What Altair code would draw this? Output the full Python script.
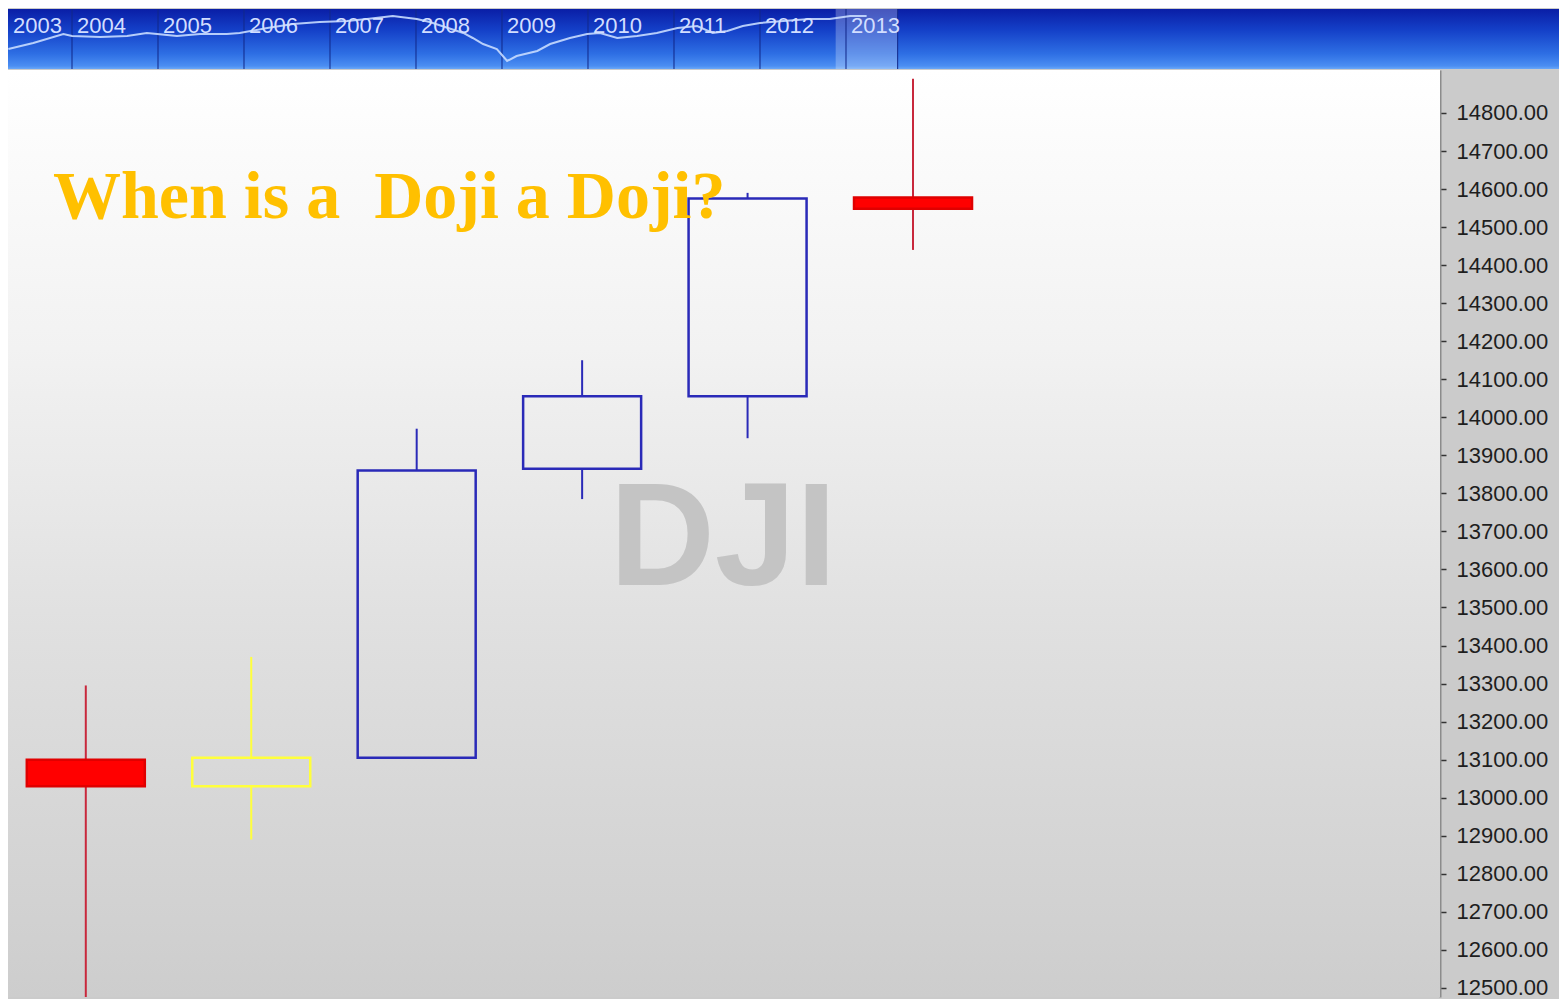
import altair as alt
import pandas as pd

# ---------------- main candles ----------------
candle_idx = [0, 1, 2, 3, 4, 5]
candle_open = [13100, 13030, 13105, 13865, 14055, 14578]
candle_close = [13030, 13105, 13860, 14055, 14575, 14548]
candle_high = [13295, 13370, 13970, 14150, 14590, 14890]
candle_low = [12476, 12890, 13105, 13785, 13945, 14440]
candle_kind = ["down", "doji", "up", "up", "up", "down"]

axis_ticks = [12500, 12600, 12700, 12800, 12900, 13000, 13100, 13200, 13300,
              13400, 13500, 13600, 13700, 13800, 13900, 14000, 14100, 14200,
              14300, 14400, 14500, 14600, 14700, 14800]

title_text = ["When is a\u00a0 Doji a Doji?"]
watermark_text = ["DJI"]

# ---------------- header navigator ----------------
header_years = [2003, 2004, 2005, 2006, 2007, 2008, 2009, 2010, 2011, 2012, 2013]
separator_years = [2004, 2005, 2006, 2007, 2008, 2009, 2010, 2011, 2012, 2013, 2013.6]
window_start = [2012.88]
window_end = [2013.6]
hist_year = [2003.26, 2003.55, 2003.90, 2004.00, 2004.33, 2004.64, 2004.87, 2004.99,
             2005.22, 2005.49, 2005.80, 2005.95, 2006.27, 2006.57, 2006.88, 2007.20,
             2007.43, 2007.73, 2008.01, 2008.16, 2008.55, 2008.66, 2008.78, 2008.94,
             2009.06, 2009.17, 2009.41, 2009.56, 2009.79, 2009.99, 2010.14, 2010.34,
             2010.57, 2010.80, 2011.04, 2011.27, 2011.45, 2011.62, 2011.80, 2012.00,
             2012.27, 2012.58, 2012.81, 2013.05, 2013.24]
hist_value = [8580, 9590, 11120, 10780, 10610, 10780, 11290, 11120,
              10780, 11120, 11120, 11290, 12130, 12810, 13150, 13320,
              13660, 14160, 13660, 13150, 11290, 10440, 9420, 8580,
              6550, 7390, 8240, 9420, 10440, 11120, 11290, 10440,
              10780, 11290, 12130, 12470, 11290, 11630, 12470, 12980,
              13320, 13660, 13660, 14160, 14160]

kinds = ["down", "doji", "up"]
fill_range = ["#ff0000", "transparent", "transparent"]
stroke_range = ["#e00000", "#ffff3c", "#2a2ab8"]
wick_range = ["#c8283c", "#ffff3c", "#2a2ab8"]

candles = pd.DataFrame({
    "idx": candle_idx, "open": candle_open, "close": candle_close,
    "high": candle_high, "low": candle_low, "kind": candle_kind,
})

MAIN_W, MAIN_H = 1432, 927
xscale = alt.Scale(domain=[-0.44, 8.155], nice=False, zero=False)
yscale = alt.Scale(domain=[12476, 14913], nice=False, zero=False)
yaxis = alt.Axis(orient="right", values=axis_ticks, format=".2f", title=None, grid=False,
                 labelFont="Liberation Sans", labelFontSize=22, labelColor="#1e1e1e",
                 labelPadding=10, tickSize=6, tickColor="#333333", tickWidth=1.5,
                 domainColor="#8c8c8c", domainWidth=2, labelOverlap=False)

grey_grad = alt.LinearGradient(gradient="linear", x1=0, x2=0, y1=0, y2=1, stops=[
    alt.GradientStop(color="#ffffff", offset=0),
    alt.GradientStop(color="#f2f2f2", offset=0.3),
    alt.GradientStop(color="#e0e0e0", offset=0.6),
    alt.GradientStop(color="#cdcdcd", offset=1)])

one = pd.DataFrame({"k": [0]})

bg = alt.Chart(one).mark_rect(fill=grey_grad).encode(
    x=alt.value(0), x2=alt.value("width"), y=alt.value(0), y2=alt.value("height"))

watermark = alt.Chart(pd.DataFrame({"t": watermark_text})).mark_text(
    font="Liberation Sans", fontWeight="bold", fontSize=146, color="#c4c4c4",
    align="center", baseline="alphabetic").encode(
    x=alt.value(715), y=alt.value(515), text="t:N")

base = alt.Chart(candles).transform_calculate(
    top="max(datum.open, datum.close)", bot="min(datum.open, datum.close)")

wick_up = base.mark_rule(strokeWidth=2).encode(
    x=alt.X("idx:Q", scale=xscale, axis=None),
    y=alt.Y("high:Q", scale=yscale, axis=yaxis),
    y2="top:Q",
    color=alt.Color("kind:N", scale=alt.Scale(domain=kinds, range=wick_range), legend=None))

wick_dn = base.mark_rule(strokeWidth=2).encode(
    x=alt.X("idx:Q", scale=xscale, axis=None),
    y=alt.Y("low:Q", scale=yscale, axis=yaxis),
    y2="bot:Q",
    color=alt.Color("kind:N", scale=alt.Scale(domain=kinds, range=wick_range), legend=None))

body = base.mark_bar(width=118, strokeWidth=2.5).encode(
    x=alt.X("idx:Q", scale=xscale, axis=None),
    y=alt.Y("open:Q", scale=yscale, axis=yaxis),
    y2="close:Q",
    fill=alt.Fill("kind:N", scale=alt.Scale(domain=kinds, range=fill_range), legend=None),
    stroke=alt.Stroke("kind:N", scale=alt.Scale(domain=kinds, range=stroke_range), legend=None))

title = alt.Chart(pd.DataFrame({"t": title_text})).mark_text(
    font="Liberation Serif", fontWeight="bold", fontSize=68, color="#ffc000",
    align="left", baseline="alphabetic").encode(
    x=alt.value(45), y=alt.value(148), text="t:N")

main = alt.layer(bg, watermark, wick_up, wick_dn, body, title).properties(
    width=MAIN_W, height=MAIN_H)

# ---------------- header ----------------
HEAD_W, HEAD_H = 1551, 60
hx = alt.Scale(domain=[2003.2558, 2021.291], nice=False, zero=False)
hy = alt.Scale(domain=[5191, 15349], nice=False, zero=False)

blue_grad = alt.LinearGradient(gradient="linear", x1=0, x2=0, y1=0, y2=1, stops=[
    alt.GradientStop(color="#0a1ea6", offset=0),
    alt.GradientStop(color="#1440c8", offset=0.35),
    alt.GradientStop(color="#2e6fe4", offset=0.75),
    alt.GradientStop(color="#4b8ef2", offset=0.95),
    alt.GradientStop(color="#6aa8f8", offset=1)])

hbg = alt.Chart(one).mark_rect(fill=blue_grad).encode(
    x=alt.value(0), x2=alt.value("width"), y=alt.value(0), y2=alt.value("height"))

hwin = alt.Chart(pd.DataFrame({"s": window_start, "e": window_end})).mark_rect(
    fill="#ffffff", opacity=0.25).encode(
    x=alt.X("s:Q", scale=hx, axis=None), x2="e:Q",
    y=alt.value(0), y2=alt.value("height"))

hsep = alt.Chart(pd.DataFrame({"yr": separator_years})).mark_rule(
    color="#12288a", strokeWidth=1.2, opacity=0.85).encode(
    x=alt.X("yr:Q", scale=hx, axis=None), y=alt.value(0), y2=alt.value("height"))

hline = alt.Chart(pd.DataFrame({"yr": hist_year, "v": hist_value})).mark_line(
    color="#c8dbff", strokeWidth=2, clip=True, opacity=0.9).encode(
    x=alt.X("yr:Q", scale=hx, axis=None),
    y=alt.Y("v:Q", scale=hy, axis=None))

hlab = alt.Chart(pd.DataFrame({"yr": header_years})).transform_calculate(
    lx="max(datum.yr, 2003.2558)", lab="toString(datum.yr)").mark_text(
    align="left", baseline="alphabetic", dx=5, font="Liberation Sans", fontSize=22,
    color="#d2deff").encode(
    x=alt.X("lx:Q", scale=hx, axis=None), y=alt.value(24), text="lab:N")

header = alt.layer(hbg, hwin, hsep, hline, hlab).properties(width=HEAD_W, height=HEAD_H)

chart = alt.vconcat(header, main, spacing=0).properties(
    padding=0, background="#cbcbcb"
).configure_view(strokeWidth=0).configure_concat(spacing=0)

chart.save("out.html", embed_options={"renderer": "svg", "actions": False})
